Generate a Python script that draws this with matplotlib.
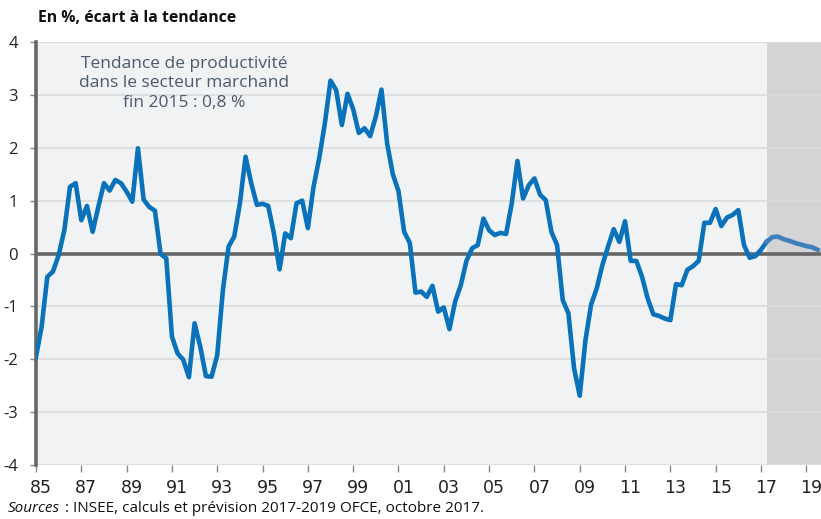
import matplotlib
matplotlib.use("Agg")
import matplotlib.pyplot as plt
import matplotlib.transforms as mtransforms
import numpy as np

plt.rcParams['font.family'] = ['Open Sans', 'DejaVu Sans']

# quarterly gap to trend (%), 1985Q1 .. 2017Q1 observed, then forecast
observed = [
    -1.95, -1.38, -0.44, -0.34, -0.03, 0.44, 1.26, 1.33,   # 85-86
    0.63, 0.90, 0.41, 0.88, 1.33, 1.19, 1.39, 1.33,       # 87-88
    1.17, 0.98, 1.99, 1.02, 0.88, 0.81, -0.01, -0.09,     # 89-90
    -1.57, -1.89, -2.01, -2.34, -1.32, -1.76, -2.32, -2.33,  # 91-92
    -1.92, -0.69, 0.13, 0.32, 0.95, 1.83, 1.33, 0.92,     # 93-94
    0.94, 0.90, 0.38, -0.30, 0.38, 0.29, 0.95, 1.00,      # 95-96
    0.48, 1.26, 1.80, 2.46, 3.27, 3.09, 2.43, 3.02,       # 97-98
    2.73, 2.28, 2.37, 2.22, 2.59, 3.10, 2.08, 1.50,       # 99-00
    1.18, 0.41, 0.20, -0.74, -0.72, -0.82, -0.61, -1.10,  # 01-02
    -1.02, -1.43, -0.91, -0.60, -0.14, 0.10, 0.16, 0.66,  # 03-04
    0.44, 0.35, 0.39, 0.37, 0.95, 1.75, 1.04, 1.29,       # 05-06
    1.42, 1.11, 1.01, 0.41, 0.16, -0.88, -1.13, -2.17,    # 07-08
    -2.69, -1.65, -0.97, -0.66, -0.22, 0.13, 0.46, 0.22,  # 09-10
    0.61, -0.14, -0.14, -0.44, -0.85, -1.15, -1.18, -1.23,  # 11-12
    -1.26, -0.58, -0.60, -0.31, -0.24, -0.14, 0.58, 0.58,   # 13-14
    0.84, 0.52, 0.68, 0.73, 0.82, 0.16, -0.08, -0.05,     # 15-16
    0.07, 0.22,                                           # 17
]
forecast = [0.22, 0.31, 0.32, 0.27, 0.24, 0.20, 0.17, 0.14, 0.12, 0.07]

year_ticks = list(range(1985, 2021, 2))
year_labels = ['%02d' % (y % 100) for y in year_ticks]
y_ticks = [-4, -3, -2, -1, 0, 1, 2, 3, 4]

start_year = 1985.0
x_obs = start_year + np.arange(len(observed)) / 4.0
x_fc = x_obs[-1] + np.arange(len(forecast)) / 4.0

fig = plt.figure(figsize=(8.21, 5.19), dpi=100)
ax = fig.add_axes([36/821, 54/519, 1 - 36/821, (465-42)/519])
ax.set_facecolor('#f1f2f4')

ax.axvspan(x_obs[-1], 2030, color='#d3d4d6', lw=0, zorder=0)

for v in y_ticks:
    if v != 0:
        ax.axhline(v, color='#dadbdd', lw=1.2, zorder=1)
ax.axhline(0, color='#666666', lw=2.6, zorder=2)

ax.plot(x_obs, observed, color='#0a71bb', lw=3.3, zorder=3)
ax.plot(x_fc, forecast, color='#3e7fbe', lw=3.3, zorder=3)

for s in ['top', 'right', 'bottom']:
    ax.spines[s].set_visible(False)
ax.spines['left'].set_color('#666666')
ax.spines['left'].set_linewidth(2.6)

ax.set_yticks(y_ticks)
ax.set_yticklabels([str(v) for v in y_ticks], fontsize=12, color='#222222')
ax.set_xticks(year_ticks)
ax.set_xticklabels(year_labels, fontsize=12.5, color='#222222',
                   family=['Liberation Sans Narrow', 'DejaVu Sans'])
ax.tick_params(axis='y', length=4, width=1, color='#888888', pad=9)
ax.tick_params(axis='x', length=5, width=1, color='#888888', pad=5, direction='out')
ax.set_xlim(start_year, 2019.65)
ax.set_ylim(-4, 4)

# labels sit a few pixels right of their tick marks
shift = mtransforms.ScaledTranslation(5/100, 0, fig.dpi_scale_trans)
for lab in ax.get_xticklabels():
    lab.set_transform(lab.get_transform() + shift)

ax.text(1991.55, 3.22, 'Tendance de productivité\ndans le secteur marchand\nfin 2015 : 0,8 %',
        ha='center', va='center', fontsize=12.5, color='#4b5a6d', linespacing=1.3, zorder=4)

fig.text(38/821, 1 - 18/519, 'En %, écart à la tendance', fontsize=11.3,
         fontweight='bold', color='#111111', va='center', ha='left')

src = fig.text(8/821, 1 - 508/519, 'Sources', fontsize=11, style='italic', color='#111111', va='center')
fig.canvas.draw()
bb = src.get_window_extent(renderer=fig.canvas.get_renderer())
fig.text((bb.x1 + 5) / fig.bbox.width, 1 - 508/519,
         ': INSEE, calculs et prévision 2017-2019 OFCE, octobre 2017.',
         fontsize=11, color='#111111', va='center')

fig.savefig('out.png', dpi=100)
